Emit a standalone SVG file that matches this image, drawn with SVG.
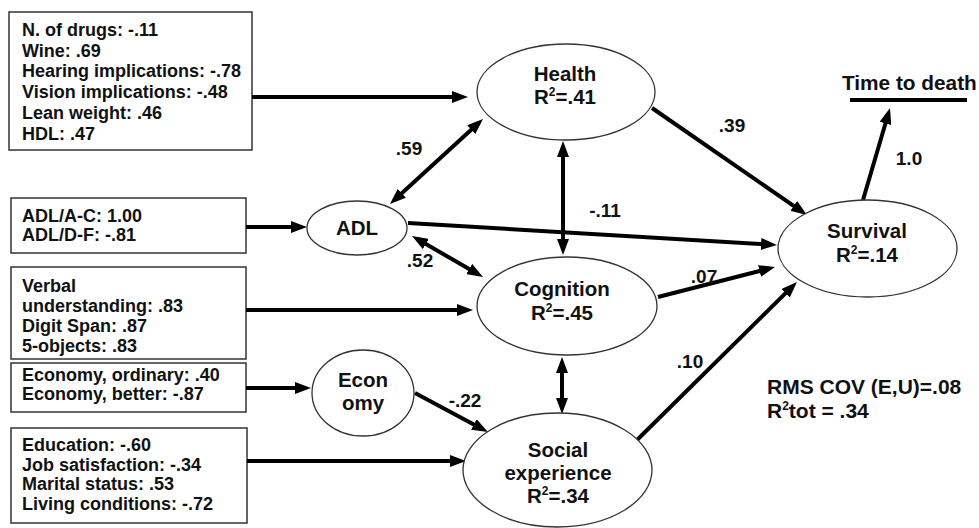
<svg xmlns="http://www.w3.org/2000/svg" width="979" height="528" viewBox="0 0 979 528">
<defs>
<marker id="ah" viewBox="0 0 16 12" refX="10" refY="6" markerWidth="16" markerHeight="12" markerUnits="userSpaceOnUse" orient="auto-start-reverse">
<path d="M0,0 L16,6 L0,12 z" fill="#000"/>
</marker>
<style>
text{font-family:"Liberation Sans",Arial,sans-serif;font-weight:bold;fill:#111}
.bx{fill:#fff;stroke:#333;stroke-width:1.5}
.bt{font-size:18px}
.el{fill:#fff;stroke:#333;stroke-width:1.3}
.nt{font-size:20.5px;text-anchor:middle}
.lb{font-size:19px}
.c{stroke:#000;stroke-width:4;fill:none}
.a{marker-end:url(#ah)}
.d{marker-start:url(#ah);marker-end:url(#ah)}
</style>
</defs>
<rect width="979" height="528" fill="#fff"/>

<g id="box-health">
<rect class="bx" x="9" y="12" width="243" height="138"/>
<text class="bt" x="22" y="36">N. of drugs: -.11</text>
<text class="bt" x="22" y="56.7">Wine: .69</text>
<text class="bt" x="22" y="77.4">Hearing implications: -.78</text>
<text class="bt" x="22" y="98.1">Vision implications: -.48</text>
<text class="bt" x="22" y="118.8">Lean weight: .46</text>
<text class="bt" x="22" y="139.5">HDL: .47</text>
</g>
<g id="box-adl">
<rect class="bx" x="11" y="198" width="235" height="55"/>
<text class="bt" x="22" y="222">ADL/A-C: 1.00</text>
<text class="bt" x="22" y="241">ADL/D-F: -.81</text>
</g>
<g id="box-cognition">
<rect class="bx" x="11" y="267" width="235" height="92"/>
<text class="bt" x="22" y="292">Verbal</text>
<text class="bt" x="22" y="312">understanding: .83</text>
<text class="bt" x="22" y="332">Digit Span: .87</text>
<text class="bt" x="22" y="352">5-objects: .83</text>
</g>
<g id="box-economy">
<rect class="bx" x="11" y="363" width="235" height="49"/>
<text class="bt" x="22" y="381">Economy, ordinary: .40</text>
<text class="bt" x="22" y="400">Economy, better: -.87</text>
</g>
<g id="box-social">
<rect class="bx" x="11" y="428" width="236" height="95"/>
<text class="bt" x="22" y="451">Education: -.60</text>
<text class="bt" x="22" y="471">Job satisfaction: -.34</text>
<text class="bt" x="22" y="490">Marital status: .53</text>
<text class="bt" x="22" y="510">Living conditions: -.72</text>
</g>

<g id="connectors">
<line class="c a" x1="252" y1="97" x2="462" y2="97"/>
<line class="c d" x1="478.6" y1="123" x2="394.4" y2="200"/>
<line class="c d" x1="563" y1="147" x2="563" y2="249"/>
<line class="c a" x1="408" y1="223" x2="771" y2="244.6"/>
<line class="c d" x1="417.2" y1="239" x2="477.8" y2="274"/>
<line class="c a" x1="246" y1="310" x2="467" y2="310"/>
<line class="c a" x1="658" y1="297" x2="769.2" y2="268.5"/>
<line class="c a" x1="246" y1="388" x2="305" y2="388"/>
<line class="c a" x1="415" y1="393" x2="482.7" y2="429.2"/>
<line class="c d" x1="562" y1="363" x2="562" y2="408"/>
<line class="c a" x1="247" y1="461" x2="460" y2="461"/>
<line class="c a" x1="637" y1="440" x2="792.7" y2="286.2"/>
<line class="c a" x1="652" y1="108" x2="802" y2="211.6"/>
<line class="c a" x1="863" y1="200" x2="888.3" y2="113.8"/>
<line class="c a" x1="246" y1="227" x2="301" y2="227"/>
<text class="lb" x="409" y="155" text-anchor="middle">.59</text>
<text class="lb" x="605" y="217" text-anchor="middle">-.11</text>
<text class="lb" x="420" y="267" text-anchor="middle">.52</text>
<text class="lb" x="704" y="283" text-anchor="middle">.07</text>
<text class="lb" x="465" y="407" text-anchor="middle">-.22</text>
<text class="lb" x="690" y="368" text-anchor="middle">.10</text>
<text class="lb" x="732" y="132" text-anchor="middle">.39</text>
<text class="lb" x="909" y="165" text-anchor="middle" font-size="18">1.0</text>
</g>

<g id="node-health">
<ellipse class="el" cx="566" cy="92" rx="89" ry="48"/>
<text class="nt" x="565" y="81">Health</text>
<text class="nt" x="565" y="104">R<tspan font-size="12" dy="-8">2</tspan><tspan dy="8">=.41</tspan></text>
</g>
<g id="node-adl">
<ellipse class="el" cx="357" cy="228" rx="50" ry="27"/>
<text class="nt" x="357" y="235">ADL</text>
</g>
<g id="node-cognition">
<ellipse class="el" cx="567" cy="306" rx="90" ry="49"/>
<text class="nt" x="562" y="296">Cognition</text>
<text class="nt" x="562" y="320">R<tspan font-size="12" dy="-8">2</tspan><tspan dy="8">=.45</tspan></text>
</g>
<g id="node-economy">
<ellipse class="el" cx="363" cy="393" rx="51" ry="43"/>
<text class="nt" x="363" y="387">Econ</text>
<text class="nt" x="363" y="410">omy</text>
</g>
<g id="node-social">
<ellipse class="el" cx="557.5" cy="470" rx="94.5" ry="57"/>
<text class="nt" x="558" y="457">Social</text>
<text class="nt" x="558" y="480">experience</text>
<text class="nt" x="558" y="503">R<tspan font-size="12" dy="-8">2</tspan><tspan dy="8">=.34</tspan></text>
</g>
<g id="node-survival">
<ellipse class="el" cx="867.5" cy="248.5" rx="89.5" ry="48.5"/>
<text class="nt" x="867" y="238">Survival</text>
<text class="nt" x="867" y="262">R<tspan font-size="12" dy="-8">2</tspan><tspan dy="8">=.14</tspan></text>
</g>
<g id="node-time">
<text x="842" y="90" font-size="20.8">Time to death</text>
<line x1="850" y1="100" x2="967" y2="100" stroke="#000" stroke-width="4"/>
</g>
<g id="fit-stats">
<text x="767" y="394" font-size="21">RMS COV (E,U)=.08</text>
<text x="767" y="418" font-size="21">R<tspan font-size="12" dy="-8">2</tspan><tspan dy="8">tot = .34</tspan></text>
</g>
</svg>
